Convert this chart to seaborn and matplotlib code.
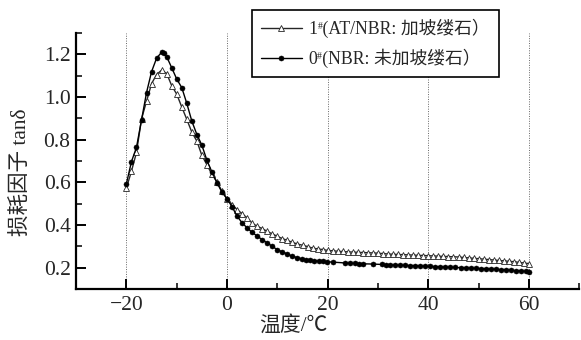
import matplotlib
matplotlib.use("Agg")
import matplotlib.pyplot as plt
from matplotlib.ticker import MultipleLocator, FormatStrFormatter
import seaborn as sns

# Loss factor tanδ versus temperature for the two compounds
temp_1 = [-20, -19, -18, -17, -16, -15, -14, -13, -12, -11, -10, -9, -8, -7, -6,
          -5, -4, -3, -2, -1, 0, 1, 2, 3, 4, 5, 6, 7, 8, 9, 10, 11, 12, 13, 14,
          15, 16, 17, 18, 19, 20, 21, 22, 23, 24, 25, 26, 27, 28, 29, 30, 31,
          32, 33, 34, 35, 36, 37, 38, 39, 40, 41, 42, 43, 44, 45, 46, 47, 48,
          49, 50, 51, 52, 53, 54, 55, 56, 57, 58, 59, 60]
tan_1 = [0.574, 0.652, 0.740, 0.897, 0.980, 1.063, 1.105, 1.126, 1.110, 1.053,
         1.013, 0.953, 0.895, 0.835, 0.793, 0.726, 0.682, 0.637, 0.602, 0.558,
         0.523, 0.496, 0.472, 0.453, 0.433, 0.408, 0.394, 0.383, 0.370, 0.358,
         0.347, 0.336, 0.328, 0.318, 0.311, 0.305, 0.299, 0.292, 0.288, 0.285,
         0.281, 0.279, 0.277, 0.276, 0.274, 0.273, 0.272, 0.271, 0.270, 0.269,
         0.268, 0.266, 0.264, 0.263, 0.262, 0.261, 0.260, 0.259, 0.258, 0.257,
         0.256, 0.255, 0.254, 0.253, 0.252, 0.251, 0.250, 0.248, 0.246, 0.244,
         0.242, 0.240, 0.238, 0.236, 0.234, 0.232, 0.230, 0.228, 0.225, 0.222,
         0.219]

temp_0 = [-20, -19, -18, -17, -16, -15, -14, -13, -12.6, -12, -11, -10, -9, -8,
          -7, -6, -5, -4, -3, -2, -1, 0, 1, 2, 3, 4, 5, 6, 7, 8, 9, 10, 11, 12,
          13, 14, 14.8, 15.7, 16.5, 17.3, 18.2, 19.0, 19.8, 21.0, 23.5, 24.5,
          25.4, 26.3, 27.1, 29.0, 30.7, 31.6, 32.4, 33.4, 34.4, 35.4, 36.4,
          37.4, 38.4, 39.4, 40.4, 41.4, 42.4, 43.4, 44.4, 45.4, 46.4, 47.4,
          48.4, 49.4, 50.4, 51.4, 52.4, 53.4, 54.4, 55.4, 56.4, 57.4, 58.4,
          59.4, 60.0]
tan_0 = [0.594, 0.697, 0.764, 0.892, 1.021, 1.119, 1.182, 1.210, 1.204, 1.189,
         1.137, 1.084, 1.044, 0.970, 0.887, 0.824, 0.774, 0.703, 0.648, 0.598,
         0.553, 0.523, 0.485, 0.441, 0.410, 0.386, 0.365, 0.348, 0.331, 0.316,
         0.300, 0.284, 0.274, 0.264, 0.253, 0.247, 0.242, 0.238, 0.235, 0.233,
         0.231, 0.230, 0.228, 0.226, 0.222, 0.221, 0.220, 0.219, 0.218, 0.217,
         0.215, 0.214, 0.213, 0.212, 0.212, 0.211, 0.210, 0.209, 0.208, 0.207,
         0.206, 0.205, 0.204, 0.203, 0.202, 0.201, 0.200, 0.199, 0.198, 0.197,
         0.196, 0.195, 0.194, 0.193, 0.191, 0.190, 0.188, 0.186, 0.185, 0.183,
         0.181]

label_1 = "1 (AT/NBR: 加坡缕石）"
label_0 = "0 (NBR: 未加坡缕石）"
grid_x = [-20, 0, 20, 40, 60]

sns.set_style("ticks")
plt.rcParams["font.family"] = ["Liberation Serif", "Noto Sans CJK SC"]

fig = plt.figure(figsize=(5.81, 3.40), dpi=100)
ax = fig.add_axes([0.131, 0.15, 0.866, 0.753])

for xv in grid_x:
    ax.axvline(xv, color="0.4", lw=0.7, ls=(0, (1, 1.5)), zorder=0)

sns.lineplot(x=temp_1, y=tan_1, ax=ax, sort=False, estimator=None,
             color="0.15", lw=1.0, marker="^", markersize=4.4,
             markerfacecolor="white", markeredgecolor="0.15",
             markeredgewidth=0.6, label=label_1)
sns.lineplot(x=temp_0, y=tan_0, ax=ax, sort=False, estimator=None,
             color="black", lw=1.0, marker="o", markersize=3.6,
             markerfacecolor="black", markeredgecolor="black",
             markeredgewidth=0.4, label=label_0)

ax.set_xlim(-30, 70)
ax.set_ylim(0.1, 1.3)
ax.xaxis.set_major_locator(MultipleLocator(20))
ax.xaxis.set_minor_locator(MultipleLocator(10))
ax.yaxis.set_major_locator(MultipleLocator(0.2))
ax.yaxis.set_minor_locator(MultipleLocator(0.1))
ax.yaxis.set_major_formatter(FormatStrFormatter("%.1f"))

for side in ("top", "right"):
    ax.spines[side].set_visible(False)
for side in ("left", "bottom"):
    ax.spines[side].set_linewidth(1.6)
    ax.spines[side].set_color("black")

ax.tick_params(which="major", direction="in", length=7, width=1.4,
               labelsize=15.5, color="black", pad=5)
ax.tick_params(axis="y", which="major", pad=4)
ax.tick_params(which="minor", direction="in", length=4, width=1.1,
               color="black")

ax.set_xlabel("温度/℃", fontsize=15, va="top")
ax.xaxis.set_label_coords(0.431, -0.105)
ax.set_ylabel("损耗因子 tanδ", fontsize=15.5)
ax.yaxis.set_label_coords(-0.088, 0.457)

leg = ax.legend(loc="upper left", bbox_to_anchor=(0.434, 0.971),
                bbox_transform=fig.transFigure, borderaxespad=0,
                fontsize=12.8, frameon=True, fancybox=False, framealpha=1,
                edgecolor="black", handlelength=2.3, handletextpad=0.4,
                labelspacing=0.6, borderpad=0.5)
leg.get_frame().set_linewidth(1.2)

# superscript "#" after the sample numbers in the legend
fig.canvas.draw()
renderer = fig.canvas.get_renderer()
W, H = fig.bbox.width, fig.bbox.height
for t in leg.get_texts():
    bb = t.get_window_extent(renderer)
    probe = fig.text(0, 0, t.get_text()[0], fontproperties=t.get_fontproperties())
    w1 = probe.get_window_extent(renderer).width
    probe.remove()
    fig.text((bb.x0 + w1 - 0.5) / W, (bb.y1 - 3) / H, "#", fontsize=7,
             ha="left", va="top")

fig.savefig("out.png", dpi=100)
